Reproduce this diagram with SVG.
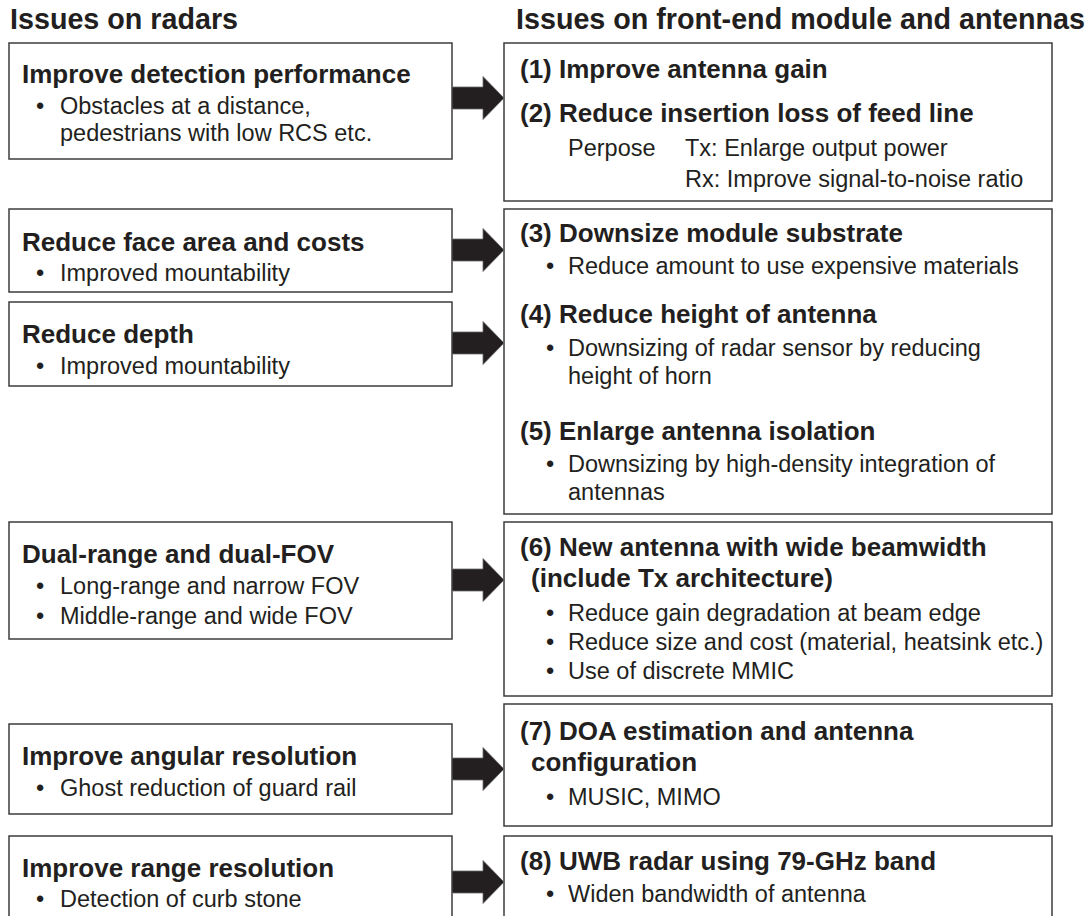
<svg xmlns="http://www.w3.org/2000/svg" xmlns:xlink="http://www.w3.org/1999/xlink" width="1092" height="916" viewBox="0 0 1092 916">
<style>
text{font-family:"Liberation Sans",Arial,sans-serif;fill:#231f20}
.title{font-size:28.7px;font-weight:bold}
.h{font-size:26px;font-weight:bold}
.b{font-size:23.5px}
.box{fill:#fff;stroke:#3c3c3c;stroke-width:1.5}
.arr{fill:#231f20;stroke:#6a6a6a;stroke-width:0.8}
</style>
<defs>
<path id="arrow" d="M0,-11 H31 V-21.5 L52,0 L31,21.5 V11 H0 Z"/>
</defs>
<rect width="1092" height="916" fill="#fff"/>
<text class="title" x="10" y="29">Issues on radars</text>
<text class="title" x="516" y="29">Issues on front-end module and antennas</text>

<g id="L1"><rect class="box" x="9" y="43" width="443" height="116"/>
<text class="h" x="22" y="83">Improve detection performance</text>
<text class="b" x="36" y="114">•</text><text class="b" x="60" y="114">Obstacles at a distance,</text>
<text class="b" x="60" y="141">pedestrians with low RCS etc.</text></g>

<g id="L2"><rect class="box" x="9" y="209" width="443" height="83"/>
<text class="h" x="22" y="251">Reduce face area and costs</text>
<text class="b" x="36" y="281">•</text><text class="b" x="60" y="281">Improved mountability</text></g>

<g id="L3"><rect class="box" x="9" y="302" width="443" height="84"/>
<text class="h" x="22" y="343">Reduce depth</text>
<text class="b" x="36" y="374">•</text><text class="b" x="60" y="374">Improved mountability</text></g>

<g id="L4"><rect class="box" x="9" y="522" width="443" height="117"/>
<text class="h" x="22" y="563">Dual-range and dual-FOV</text>
<text class="b" x="36" y="594">•</text><text class="b" x="60" y="594">Long-range and narrow FOV</text>
<text class="b" x="36" y="624">•</text><text class="b" x="60" y="624">Middle-range and wide FOV</text></g>

<g id="L5"><rect class="box" x="9" y="724" width="443" height="90"/>
<text class="h" x="22" y="765">Improve angular resolution</text>
<text class="b" x="36" y="796">•</text><text class="b" x="60" y="796">Ghost reduction of guard rail</text></g>

<g id="L6"><rect class="box" x="9" y="836" width="443" height="100"/>
<text class="h" x="22" y="877">Improve range resolution</text>
<text class="b" x="36" y="907">•</text><text class="b" x="60" y="907">Detection of curb stone</text></g>

<g id="R1"><rect class="box" x="504" y="43" width="548" height="158"/>
<text class="h" x="520" y="78">(1) Improve antenna gain</text>
<text class="h" x="520" y="122">(2) Reduce insertion loss of feed line</text>
<text class="b" x="568" y="156">Perpose</text><text class="b" x="685" y="156">Tx: Enlarge output power</text>
<text class="b" x="685" y="187">Rx: Improve signal-to-noise ratio</text></g>

<g id="R2"><rect class="box" x="504" y="209" width="548" height="305"/>
<text class="h" x="520" y="242">(3) Downsize module substrate</text>
<text class="b" x="546" y="274">•</text><text class="b" x="568" y="274">Reduce amount to use expensive materials</text>
<text class="h" x="520" y="323">(4) Reduce height of antenna</text>
<text class="b" x="546" y="356">•</text><text class="b" x="568" y="356">Downsizing of radar sensor by reducing</text>
<text class="b" x="568" y="384">height of horn</text>
<text class="h" x="520" y="440">(5) Enlarge antenna isolation</text>
<text class="b" x="546" y="472">•</text><text class="b" x="568" y="472">Downsizing by high-density integration of</text>
<text class="b" x="568" y="500">antennas</text></g>

<g id="R3"><rect class="box" x="504" y="522" width="548" height="174"/>
<text class="h" x="520" y="556">(6) New antenna with wide beamwidth</text>
<text class="h" x="531" y="587">(include Tx architecture)</text>
<text class="b" x="546" y="621">•</text><text class="b" x="568" y="621">Reduce gain degradation at beam edge</text>
<text class="b" x="546" y="650">•</text><text class="b" x="568" y="650">Reduce size and cost (material, heatsink etc.)</text>
<text class="b" x="546" y="679">•</text><text class="b" x="568" y="679">Use of discrete MMIC</text></g>

<g id="R4"><rect class="box" x="504" y="704" width="548" height="122"/>
<text class="h" x="520" y="740">(7) DOA estimation and antenna</text>
<text class="h" x="531" y="771">configuration</text>
<text class="b" x="546" y="805">•</text><text class="b" x="568" y="805">MUSIC, MIMO</text></g>

<g id="R5"><rect class="box" x="504" y="836" width="548" height="100"/>
<text class="h" x="520" y="870">(8) UWB radar using 79-GHz band</text>
<text class="b" x="546" y="902">•</text><text class="b" x="568" y="902">Widen bandwidth of antenna</text></g>

<g id="connectors">
<use xlink:href="#arrow" class="arr" transform="translate(452,98)"/>
<use xlink:href="#arrow" class="arr" transform="translate(452,250)"/>
<use xlink:href="#arrow" class="arr" transform="translate(452,343)"/>
<use xlink:href="#arrow" class="arr" transform="translate(452,580)"/>
<use xlink:href="#arrow" class="arr" transform="translate(452,769)"/>
<use xlink:href="#arrow" class="arr" transform="translate(452,882)"/>
</g>
</svg>
